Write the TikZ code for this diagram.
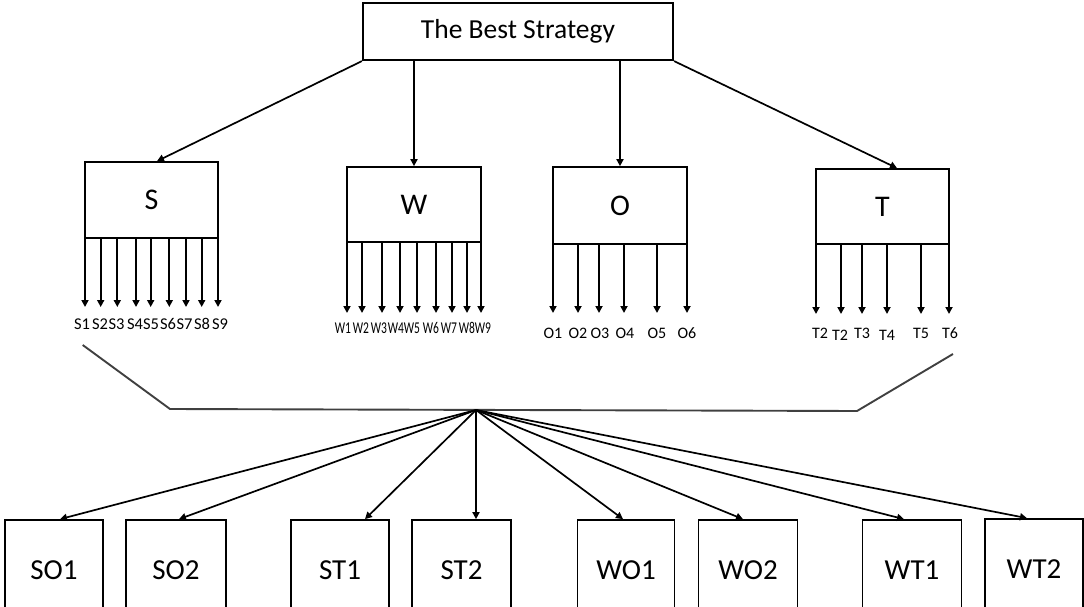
\documentclass[tikz,border=0pt]{standalone}
\usepackage{fontspec}
\setmainfont{Carlito}
\usetikzlibrary{arrows.meta}
\newcommand\squeeze[1]{\scalebox{0.7}[1]{#1}}
\begin{document}
\begin{tikzpicture}[x=1pt,y=-1pt,
  box/.style={draw,line width=1.7pt,inner sep=0pt},
  arr/.style={line width=1.7pt,-{Triangle[length=7pt,width=7pt]}},
  bigfont/.style={font=\fontsize{29}{32}\selectfont},
  topfont/.style={font=\fontsize{27.5}{30}\selectfont},
  midfont/.style={font=\fontsize{30}{32}\selectfont},
  slab/.style={inner sep=0pt,font=\fontsize{16.5}{18}\selectfont},
  wlab/.style={inner sep=0pt,font=\fontsize{16.5}{18}\selectfont},
  olab/.style={inner sep=0pt,font=\fontsize{16}{18}\selectfont},
  tlab/.style={inner sep=0pt,font=\fontsize{16}{18}\selectfont},
  bracket/.style={line width=1.9pt,black!75},
  bot/.style={box,minimum width=98pt,minimum height=100pt,bigfont}]
\useasboundingbox (0,0) rectangle (1084,607);
\clip (0,0) rectangle (1084,607);

% top box
\node[box,line width=2.2pt,minimum width=310pt,minimum height=57pt,topfont] (TB) at (518,31.5) {The Best Strategy};

% S W O T boxes
\node[box,minimum width=133pt,minimum height=76pt,midfont] (S) at (151.5,200) {S};
\node[box,minimum width=134pt,minimum height=75pt,midfont] (W) at (414,204.5) {W};
\node[box,minimum width=134pt,minimum height=77pt,midfont] (O) at (620,205.5) {O};
\node[box,minimum width=133pt,minimum height=75pt,midfont] (T) at (882.5,206.5) {T};

% arrows from top box
\draw[arr] (TB.south west) -- ([xshift=5.5pt]S.north);
\draw[arr] (TB.south -| W.north) -- (W.north);
\draw[arr] (TB.south -| O.north) -- (O.north);
\draw[arr] (TB.south east) -- ([xshift=14.5pt]T.north);

% S sub arrows
\foreach \x/\lx [count=\i] in {85/82,100.7/100,117.3/116.5,136/135,150.7/151,169.3/168,186/184.5,201.7/202,218/220} {
  \coordinate (se\i) at (\x,307);
  \draw[arr] (S.south -| se\i) -- (se\i);
  \node[slab] (sl\i) at (\lx,324) {S\i};
}
% W sub arrows
\foreach \x/\lx [count=\i] in {347/343,362/361,382/379,400/396,417/412,436/431,452/449,467/467,481/483} {
  \coordinate (we\i) at (\x,313);
  \draw[arr] (W.south -| we\i) -- (we\i);
  \node[wlab] (wl\i) at (\lx,328) {\squeeze{W\i}};
}
% O sub arrows
\foreach \x/\lx [count=\i] in {553/553,578/578,599/600,624/625,657/657,687/687} {
  \coordinate (oe\i) at (\x,313);
  \draw[arr] (O.south -| oe\i) -- (oe\i);
  \node[olab] (ol\i) at (\lx,333) {O\i};
}
% T sub arrows
\foreach \x/\lx/\ly/\t [count=\i] in {816/820/333/T2,841/840/335/T2,862/862/333/T3,887/887/335/T4,921/921/333/T5,949/950/333/T6} {
  \coordinate (te\i) at (\x,314);
  \draw[arr] (T.south -| te\i) -- (te\i);
  \node[tlab] (tl\i) at (\lx,\ly) {\t};
}

% bracket
\coordinate (bl) at (82.7,345);
\coordinate (b1) at (170,409);
\coordinate (b2) at (857,411);
\coordinate (br) at (953,354);
\coordinate (hub) at (476,410);
\draw[bracket,line join=miter] (bl) -- (b1) -- (b2) -- (br);

% bottom boxes
\node[bot] (SO1) at (54,570) {SO1};
\node[bot,minimum width=100pt] (SO2) at (176,570) {SO2};
\node[bot] (ST1) at (340,570) {ST1};
\node[bot,minimum width=99pt] (ST2) at (461.5,570) {ST2};
\node[bot,minimum width=97pt] (WO1) at (626,570) {WO1};
\node[bot,minimum width=99pt] (WO2) at (748,570) {WO2};
\node[bot,minimum width=99pt] (WT1) at (912,570) {WT1};
\node[bot] (WT2) at (1034,569) {WT2};

% arrows from hub
\draw[arr] (hub) -- ([xshift=6pt]SO1.north);
\draw[arr] (hub) -- ([xshift=3pt]SO2.north);
\draw[arr] (hub) -- ([xshift=25pt]ST1.north);
\draw[arr] (hub) -- (ST2.north -| hub);
\draw[arr] (hub) -- ([xshift=-3pt]WO1.north);
\draw[arr] (hub) -- ([xshift=-5pt]WO2.north);
\draw[arr] (hub) -- ([xshift=-8pt]WT1.north);
\draw[arr] (hub) -- ([xshift=-7pt]WT2.north);
\end{tikzpicture}
\end{document}
